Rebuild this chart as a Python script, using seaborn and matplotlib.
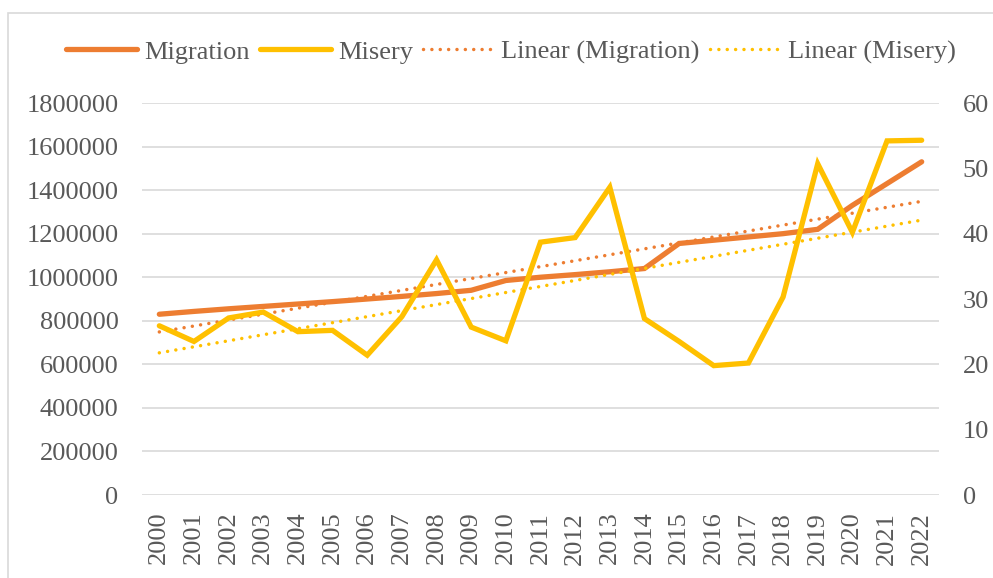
import numpy as np
import pandas as pd
import matplotlib
matplotlib.use("Agg")
import matplotlib.pyplot as plt
from matplotlib.lines import Line2D
from matplotlib.patches import Rectangle
import seaborn as sns

years = list(range(2000, 2023))
migration = [830000, 843000, 855000, 866000, 877000, 888000, 900000, 912000,
             925000, 940000, 985000, 1000000, 1012000, 1025000, 1040000,
             1155000, 1170000, 1185000, 1200000, 1220000, 1330000, 1430000,
             1530000]
misery = [25.9, 23.5, 27.1, 28.0, 25.0, 25.2, 21.4, 27.3, 36.0, 25.7, 23.6,
          38.7, 39.4, 47.1, 27.0, 23.5, 19.8, 20.2, 30.3, 50.7, 40.2, 54.2,
          54.3]
left_ticks = [0, 200000, 400000, 600000, 800000, 1000000, 1200000, 1400000,
              1600000, 1800000]
right_ticks = [0, 10, 20, 30, 40, 50, 60]

df = pd.DataFrame({"year": years, "Migration": migration, "Misery": misery})
xi = np.arange(len(years))
df["trend_mig"] = np.polyval(np.polyfit(xi, df["Migration"], 1), xi)
df["trend_mis"] = np.polyval(np.polyfit(xi, df["Misery"], 1), xi)

sns.set_theme(style="white")
plt.rcParams["font.family"] = ["Liberation Serif", "DejaVu Serif"]

ORANGE = "#ED7D31"
YELLOW = "#FFC000"
TXT = "#595959"
FS = 19

fig = plt.figure(figsize=(9.93, 5.78), dpi=100)
fig.patches.append(Rectangle((8 / 993, -0.05), 1.2, 1 - 13 / 578 + 0.05,
                             transform=fig.transFigure, fill=False,
                             edgecolor="#d9d9d9", linewidth=1.2))
ax = fig.add_axes([142 / 993, 1 - 495 / 578, (939 - 142) / 993, (495 - 103) / 578])
ax2 = ax.twinx()

dot = (0, (0.01, 2.4))
TLW = 2.5

sns.lineplot(data=df, x="year", y="trend_mig", ax=ax, color=ORANGE, lw=TLW,
             linestyle=dot, dash_capstyle="round", zorder=3)
sns.lineplot(data=df, x="year", y="Migration", ax=ax, color=ORANGE, lw=3.8,
             solid_capstyle="round", solid_joinstyle="miter", zorder=4)
sns.lineplot(data=df, x="year", y="trend_mis", ax=ax2, color=YELLOW, lw=TLW,
             linestyle=dot, dash_capstyle="round", zorder=3)
sns.lineplot(data=df, x="year", y="Misery", ax=ax2, color=YELLOW, lw=3.8,
             solid_capstyle="round", solid_joinstyle="miter", zorder=4)

ax.set_xlim(years[0] - 0.5, years[-1] + 0.5)
ax.set_ylim(0, 1800000)
ax2.set_ylim(0, 60)
ax.set_xticks(years)
ax.set_xticklabels([str(y) for y in years], rotation=90, fontsize=FS, color=TXT)
ax.set_yticks(left_ticks)
ax.set_yticklabels([str(v) for v in left_ticks], fontsize=FS, color=TXT)
ax2.set_yticks(right_ticks)
ax2.set_yticklabels([str(v) for v in right_ticks], fontsize=FS, color=TXT)
ax.tick_params(axis="y", length=0, pad=17)
ax.tick_params(axis="x", length=0, pad=12)
ax2.tick_params(axis="y", length=0, pad=17)
ax.set_xlabel("")
ax.set_ylabel("")
ax2.set_ylabel("")
ax.grid(axis="y", color="#d9d9d9", lw=1.2)
ax.grid(axis="x", visible=False)
ax2.grid(False)
for a in (ax, ax2):
    for s in a.spines.values():
        s.set_visible(False)

handles = [
    Line2D([], [], color=ORANGE, lw=3.8, solid_capstyle="round"),
    Line2D([], [], color=YELLOW, lw=3.8, solid_capstyle="round"),
    Line2D([], [], color=ORANGE, lw=TLW, linestyle=dot, dash_capstyle="round"),
    Line2D([], [], color=YELLOW, lw=TLW, linestyle=dot, dash_capstyle="round"),
]
labels = ["Migration", "Misery", "Linear (Migration)", "Linear (Misery)"]
leg = fig.legend(handles, labels, loc="center", bbox_to_anchor=(511 / 993, 1 - 52 / 578),
                 ncol=4, frameon=False, fontsize=FS, handlelength=2.7,
                 handletextpad=0.25, columnspacing=0.4, labelcolor=TXT)

fig.savefig("out.png", dpi=100)
